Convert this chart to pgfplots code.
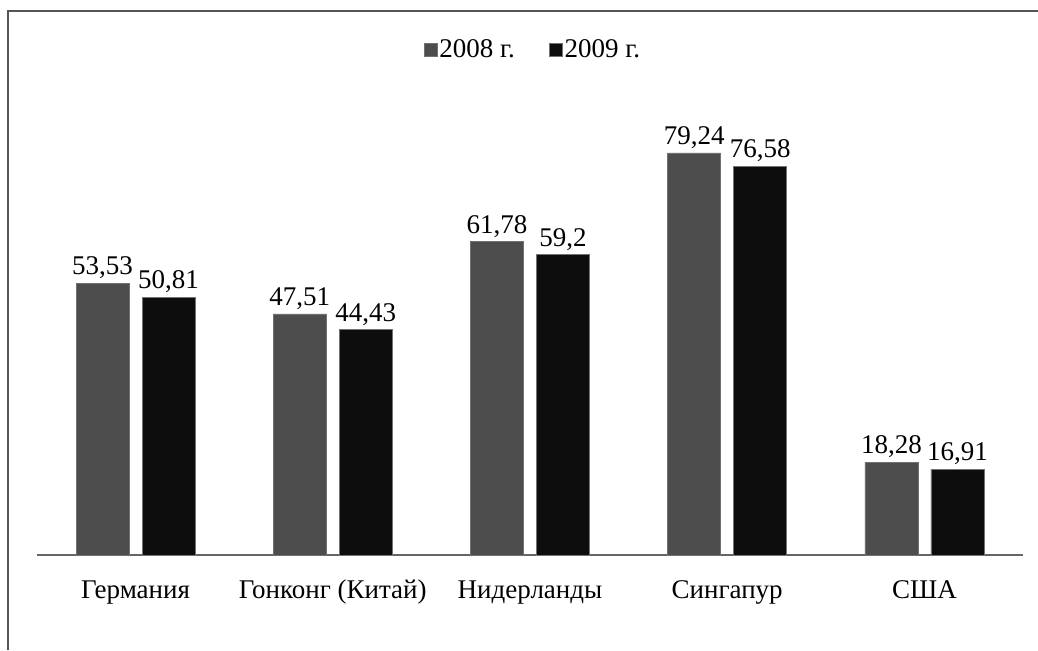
\documentclass[border=0pt]{standalone}
\usepackage{fontspec}
\setmainfont{Liberation Serif}
\usepackage{pgfplots}
\pgfplotsset{compat=1.18}
\definecolor{cA}{HTML}{4D4D4D}
\definecolor{cB}{HTML}{0D0D0D}
\definecolor{frm}{HTML}{555555}
\begin{document}
\begin{tikzpicture}
\useasboundingbox (0,0) rectangle (519pt,325pt);
\draw[frm, line width=1.2pt] (4pt,0) -- (4pt,319.5pt) -- (519pt,319.5pt);
\begin{axis}[
  at={(18.5pt,47.5pt)}, anchor=south west,
  scale only axis, width=493pt, height=241pt,
  xmin=-0.5, xmax=4.5, ymin=0, ymax=95,
  axis y line=none, axis x line*=bottom,
  x axis line style={draw=black!60, line width=0.7pt, -},
  xtick=data,
  xticklabels={Германия, Гонконг (Китай), Нидерланды, Сингапур, США},
  major tick length=0pt,
  x tick label style={font=\fontsize{13.5}{16}\selectfont, text height=10pt, text depth=3pt, yshift=-8pt},
  ybar=6.5pt, bar width=26.5pt,
  /pgf/number format/assume math mode=true,
  nodes near coords={\pgfmathprintnumber[use comma,fixed,precision=2]{\pgfplotspointmeta}},
  every node near coord/.append style={font=\fontsize{13.5}{16}\selectfont, inner sep=2pt},
  legend style={at={(0.503,1.048)}, anchor=center, draw=none, fill=none,
    legend columns=2, font=\fontsize{13.5}{16}\selectfont,
    /tikz/every even column/.append style={column sep=16pt},
    nodes={inner xsep=1pt}},
  legend image code/.code={\fill[#1] (0pt,-3.2pt) rectangle (6.4pt,3.2pt);},
  clip=false,
]
\addplot[fill=cA, draw=cA!80!white] coordinates {(0,53.53) (1,47.51) (2,61.78) (3,79.24) (4,18.28)};
\addplot[fill=cB, draw=black!55] coordinates {(0,50.81) (1,44.43) (2,59.2) (3,76.58) (4,16.91)};
\legend{2008 г., 2009 г.}
\end{axis}
\end{tikzpicture}
\end{document}
